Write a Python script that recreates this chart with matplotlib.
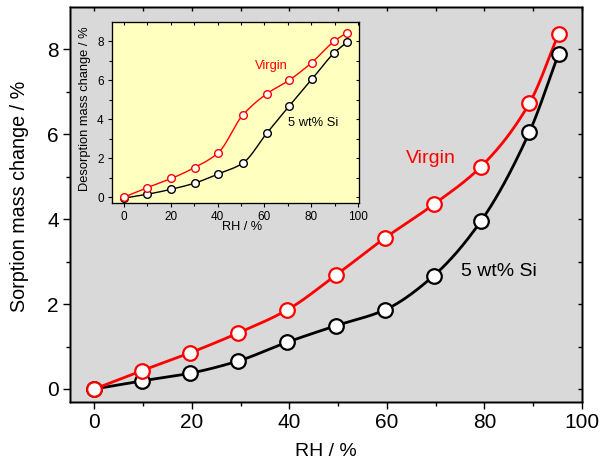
import numpy as np
import matplotlib.pyplot as plt

# sorption (main plot)
rh_sorp = [0, 9.7, 19.6, 29.5, 39.5, 49.5, 59.5, 69.6, 79.3, 89.2, 95.2]
virgin_sorp = [0.0, 0.43, 0.85, 1.32, 1.86, 2.68, 3.55, 4.35, 5.24, 6.73, 8.37]
si_sorp = [0.0, 0.19, 0.37, 0.66, 1.10, 1.49, 1.86, 2.67, 3.96, 6.05, 7.90]

# desorption (inset)
rh_desorp = [0, 10, 20.3, 30.2, 40.4, 50.7, 61, 70.6, 80.2, 89.8, 95.2]
virgin_desorp = [0.0, 0.49, 0.96, 1.52, 2.29, 4.20, 5.30, 6.00, 6.90, 8.00, 8.43]
si_desorp = [-0.05, 0.15, 0.41, 0.72, 1.20, 1.74, 3.28, 4.68, 6.04, 7.40, 7.94]

FONT = ["Liberation Sans", "DejaVu Sans"]
plt.rcParams["font.family"] = FONT


def smooth(x, y, n=300):
    # monotone cubic (pchip) through the measured points
    x = np.asarray(x, float)
    y = np.asarray(y, float)
    h = np.diff(x)
    d = np.diff(y) / h
    m = np.zeros_like(y)
    m[0], m[-1] = d[0], d[-1]
    for k in range(1, len(x) - 1):
        if d[k - 1] * d[k] > 0:
            w1 = 2 * h[k] + h[k - 1]
            w2 = h[k] + 2 * h[k - 1]
            m[k] = (w1 + w2) / (w1 / d[k - 1] + w2 / d[k])
    xs = np.linspace(x[0], x[-1], n)
    i = np.clip(np.searchsorted(x, xs) - 1, 0, len(x) - 2)
    t = (xs - x[i]) / h[i]
    h00 = 2 * t**3 - 3 * t**2 + 1
    h10 = t**3 - 2 * t**2 + t
    h01 = -2 * t**3 + 3 * t**2
    h11 = t**3 - t**2
    ys = h00 * y[i] + h10 * h[i] * m[i] + h01 * y[i + 1] + h11 * h[i] * m[i + 1]
    return xs, ys


def series(ax, x, y, color, lw, ms, mew):
    xs, ys = smooth(x, y)
    ax.plot(xs, ys, color=color, lw=lw, zorder=2)
    ax.plot(x, y, "o", color=color, mfc="white", ms=ms, mew=mew, zorder=3)


def style_axes(ax, xmaj, xmin, ymaj, ymin, L, l, Lin, fs, lw):
    ax.set_xticks(xmaj)
    ax.set_xticks(xmin, minor=True)
    ax.set_yticks(ymaj)
    ax.set_yticks(ymin, minor=True)
    ax.tick_params(which="major", direction="out", length=L, width=lw, labelsize=fs, pad=3)
    ax.tick_params(which="minor", direction="out", length=l, width=lw)
    for s in ax.spines.values():
        s.set_linewidth(lw)
    # short inward ticks on the top and right edges
    top = ax.twiny()
    top.set_xlim(ax.get_xlim())
    top.set_xticks(xmin)
    top.tick_params(direction="in", length=Lin, width=lw, labeltop=False)
    right = ax.twinx()
    right.set_ylim(ax.get_ylim())
    right.set_yticks(ymin)
    right.tick_params(direction="in", length=Lin, width=lw, labelright=False)
    for a in (top, right):
        for s in a.spines.values():
            s.set_linewidth(lw)


fig = plt.figure(figsize=(6.02, 4.65), dpi=100)

# ---- main axes -----------------------------------------------------------
ax = fig.add_axes([0.1163, 0.1361, 0.8505, 0.8488])
ax.set_facecolor("#d9d9d9")
series(ax, rh_sorp, si_sorp, "black", 2.0, 10.5, 1.6)
series(ax, rh_sorp, virgin_sorp, "#ff0000", 2.0, 10.5, 1.6)
ax.set_xlim(-5, 100)
ax.set_ylim(-0.3, 9.0)
ax.set_xlabel("RH / %", fontsize=14, va="center")
ax.xaxis.set_label_coords(0.5, -0.125)
ax.set_ylabel("Sorption mass change / %", fontsize=14.2, va="center")
ax.yaxis.set_label_coords(-0.0977, 0.52)
ax.text(68.9, 5.42, "Virgin", color="#ff0000", fontsize=14, ha="center", va="center")
ax.text(83.0, 2.77, "5 wt% Si", color="black", fontsize=14, ha="center", va="center")
style_axes(ax, np.arange(0, 101, 20), np.arange(0, 101, 10),
           np.arange(0, 9, 2), np.arange(0, 9, 1), 5, 3, 3, 15, 1.0)

# ---- inset ---------------------------------------------------------------
ins = fig.add_axes([0.186, 0.5645, 0.4111, 0.3892])
ins.set_facecolor("#ffffc0")
series(ins, rh_desorp, si_desorp, "black", 1.0, 5.5, 1.0)
series(ins, rh_desorp, virgin_desorp, "#ff0000", 1.0, 5.5, 1.0)
ins.set_xlim(-5, 100.5)
ins.set_ylim(-0.27, 9.0)
ins.set_xlabel("RH / %", fontsize=9.2, va="center")
ins.xaxis.set_label_coords(0.524, -0.137)
ins.set_ylabel("Desorption mass change / %", fontsize=9.3, va="center")
ins.yaxis.set_label_coords(-0.109, 0.52)
ins.text(63, 6.73, "Virgin", color="#ff0000", fontsize=9.3, ha="center", va="center")
ins.text(80.7, 3.81, "5 wt% Si", color="black", fontsize=9.3, ha="center", va="center")
style_axes(ins, np.arange(0, 101, 20), np.arange(0, 101, 10),
           np.arange(0, 9, 2), np.arange(0, 9, 1), 3, 2, 2.2, 8.5, 0.8)

fig.savefig("out.png", dpi=100)
